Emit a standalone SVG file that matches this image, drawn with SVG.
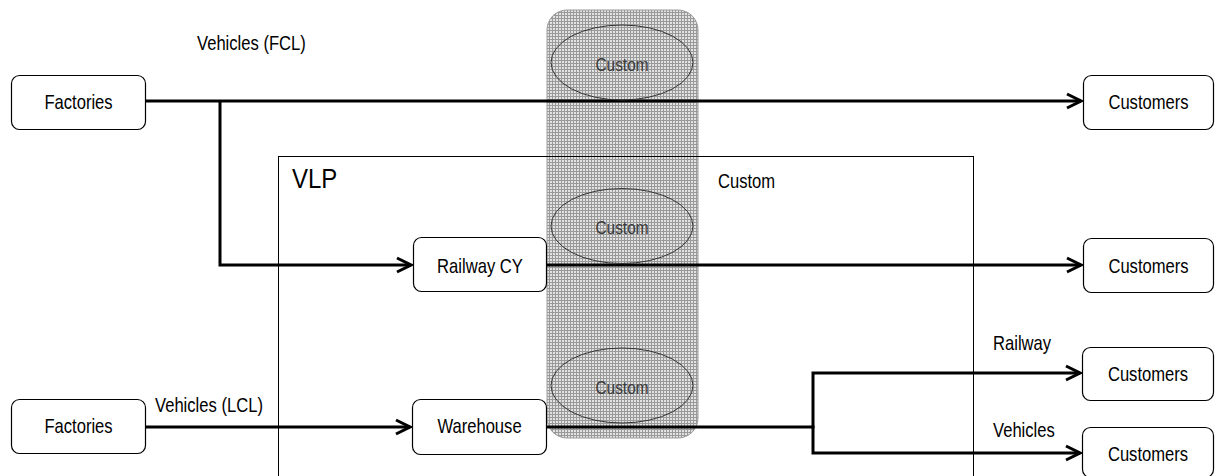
<svg xmlns="http://www.w3.org/2000/svg" width="1215" height="476" viewBox="0 0 1215 476">
  <style>
    .node { fill: #ffffff; stroke: #000000; stroke-width: 1.2; }
    .lbl { font-family: "Liberation Sans", Arial, sans-serif; font-size: 16.6px; fill: #000000; }
    .mid { text-anchor: middle; }
    .cust { font-family: "Liberation Sans", Arial, sans-serif; font-size: 15.4px; fill: #3a3a3a; text-anchor: middle; }
    .flow { fill: none; stroke: #000000; stroke-width: 3; }
    .flow-arrow { fill: none; stroke: #000000; stroke-width: 3; marker-end: url(#chevron); }
    .zone { fill: none; stroke: #000000; stroke-width: 1; }
    .oval { fill: none; stroke: #333333; stroke-width: 1; }
  </style>
  <defs>
    <pattern id="grid" x="0" y="0" width="3" height="3" patternUnits="userSpaceOnUse">
      <rect width="3" height="3" fill="#e2e2e2"/>
      <rect width="3" height="1" fill="#999999"/>
      <rect width="1" height="3" fill="#999999"/>
    </pattern>
    <marker id="chevron" viewBox="-18 -10 20 20" refX="0" refY="0" markerWidth="20" markerHeight="20" markerUnits="userSpaceOnUse" orient="auto">
      <path d="M-14,-7 L0,0 L-14,7" fill="none" stroke="#000000" stroke-width="3" stroke-linejoin="miter"/>
    </marker>
  </defs>

  <rect width="1215" height="476" fill="#ffffff"/>

  <!-- customs band -->
  <g id="customs-band">
    <rect x="547" y="10" width="151" height="428" rx="20" ry="20" fill="url(#grid)" stroke="#9a9a9a" stroke-width="1"/>
  </g>

  <!-- VLP zone -->
  <g id="vlp">
    <rect class="zone" x="278.5" y="156.5" width="695" height="340"/>
    <text class="lbl" font-size="24" transform="translate(292 188) scale(1 1.17)" style="font-size:24px">VLP</text>
  </g>

  <!-- connectors -->
  <g id="connectors">
    <path class="flow-arrow" d="M145,101 H1081"/>
    <path class="flow-arrow" d="M220,101 V265 H411"/>
    <path class="flow-arrow" d="M546,265 H1081"/>
    <path class="flow-arrow" d="M145,427 H410"/>
    <path class="flow" d="M546,427 H813"/>
    <path class="flow-arrow" d="M813,428.5 V373 H1080"/>
    <path class="flow-arrow" d="M813,425.5 V453 H1080"/>
  </g>

  <!-- customs checkpoints -->
  <g id="custom-1">
    <ellipse class="oval" cx="622" cy="62.5" rx="71" ry="37.5"/>
    <text class="cust" transform="translate(622 71) scale(1 1.18)">Custom</text>
  </g>
  <g id="custom-2">
    <ellipse class="oval" cx="622" cy="226" rx="71" ry="37.5"/>
    <text class="cust" transform="translate(622 234) scale(1 1.18)">Custom</text>
  </g>
  <g id="custom-3">
    <ellipse class="oval" cx="622" cy="385.5" rx="71" ry="37.5"/>
    <text class="cust" transform="translate(622 394) scale(1 1.18)">Custom</text>
  </g>

  <!-- nodes -->
  <g id="factories-fcl">
    <rect class="node" x="11.5" y="75.5" width="134" height="54" rx="8"/>
    <text class="lbl mid" transform="translate(78.5 109) scale(1 1.2)">Factories</text>
  </g>
  <g id="factories-lcl">
    <rect class="node" x="11.5" y="399.5" width="134" height="54" rx="8"/>
    <text class="lbl mid" transform="translate(78.5 433) scale(1 1.2)">Factories</text>
  </g>
  <g id="railway-cy">
    <rect class="node" x="413.5" y="237.5" width="133" height="54" rx="8"/>
    <text class="lbl mid" transform="translate(480 273) scale(1 1.2)">Railway CY</text>
  </g>
  <g id="warehouse">
    <rect class="node" x="412.5" y="399.5" width="134" height="55" rx="8"/>
    <text class="lbl mid" transform="translate(479.5 433) scale(1 1.2)">Warehouse</text>
  </g>
  <g id="customers-1">
    <rect class="node" x="1083.5" y="75.5" width="130" height="54" rx="8"/>
    <text class="lbl mid" transform="translate(1148.5 109) scale(1 1.2)">Customers</text>
  </g>
  <g id="customers-2">
    <rect class="node" x="1083.5" y="238.5" width="130" height="54" rx="8"/>
    <text class="lbl mid" transform="translate(1148.5 273) scale(1 1.2)">Customers</text>
  </g>
  <g id="customers-3">
    <rect class="node" x="1082.5" y="347.5" width="131" height="53" rx="8"/>
    <text class="lbl mid" transform="translate(1148 381) scale(1 1.2)">Customers</text>
  </g>
  <g id="customers-4">
    <rect class="node" x="1082.5" y="427.5" width="131" height="50" rx="8"/>
    <text class="lbl mid" transform="translate(1148 461) scale(1 1.2)">Customers</text>
  </g>

  <!-- flow labels -->
  <g id="labels">
    <text class="lbl" transform="translate(197 50) scale(1 1.2)">Vehicles (FCL)</text>
    <text class="lbl" transform="translate(155 412) scale(1 1.2)">Vehicles (LCL)</text>
    <text class="lbl" transform="translate(718 188) scale(1 1.2)">Custom</text>
    <text class="lbl" transform="translate(993 350) scale(1 1.2)">Railway</text>
    <text class="lbl" transform="translate(993 437) scale(1 1.2)">Vehicles</text>
  </g>
</svg>
